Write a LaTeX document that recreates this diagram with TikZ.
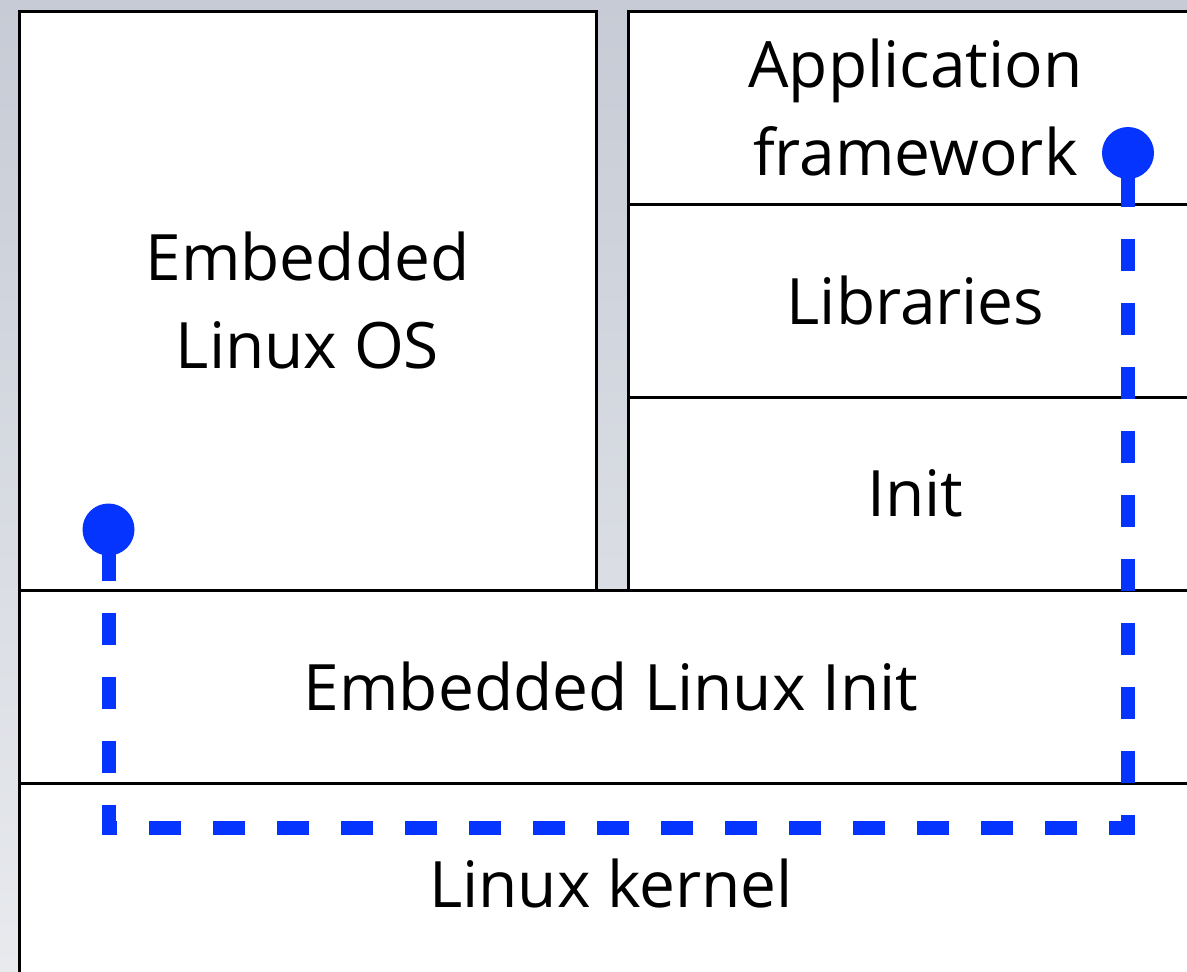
\documentclass[tikz,border=0pt]{standalone}
\usepackage{fontspec}
\setmainfont{Open Sans}
\begin{document}
\begin{tikzpicture}[x=1pt,y=-1pt,
  layer/.style={draw=black,line width=3pt,fill=white,inner sep=0pt,outer sep=0pt,
    align=center,font=\fontsize{64}{88}\selectfont,text=black},
  route/.style={draw=routeblue,line width=14pt,dash pattern=on 32pt off 32pt,dash phase=45pt},
  pin/.style={circle,fill=routeblue,inner sep=0pt,minimum size=52pt}]
\definecolor{routeblue}{RGB}{5,52,255}
\definecolor{bgtop}{RGB}{198,203,213}
\definecolor{bgbot}{RGB}{232,234,238}
\useasboundingbox (0,0) rectangle (1187,972);
\begin{scope}
\clip (0,0) rectangle (1187,972);
\shade[top color=bgtop,bottom color=bgbot] (0,0) rectangle (1187,972);
\node[layer,minimum width=577pt,minimum height=579pt] (os) at (307.5,300.5) {Embedded\\Linux OS};
\node[layer,minimum width=575pt,minimum height=193pt] (app) at (915.5,107.5) {Application\\framework};
\node[layer,minimum width=575pt,minimum height=193pt] (lib) at (915.5,300.5) {Libraries};
\node[layer,minimum width=575pt,minimum height=193pt] (init) at (915.5,493.5) {Init};
\node[layer,minimum width=1184pt,minimum height=193pt] (eli) at (611,686.5) {Embedded Linux Init};
\node[layer,minimum width=1184pt,minimum height=200pt] (kernel) at (611,883) {\raisebox{0pt}{Linux kernel}};
\coordinate (s) at (108.5,529.5);
\coordinate (c1) at (108.5,828);
\coordinate (c2) at (1128,828);
\coordinate (e) at (1128,153);
\draw[route] (s) -- (c1) -- (c2) -- (e);
\draw[routeblue,line width=14pt] (s) -- ++(0,40);
\draw[routeblue,line width=14pt] (e) -- (1128,207);
\node[pin] (p1) at (s) {};
\node[pin] (p2) at (e) {};
\end{scope}
\end{tikzpicture}
\end{document}
